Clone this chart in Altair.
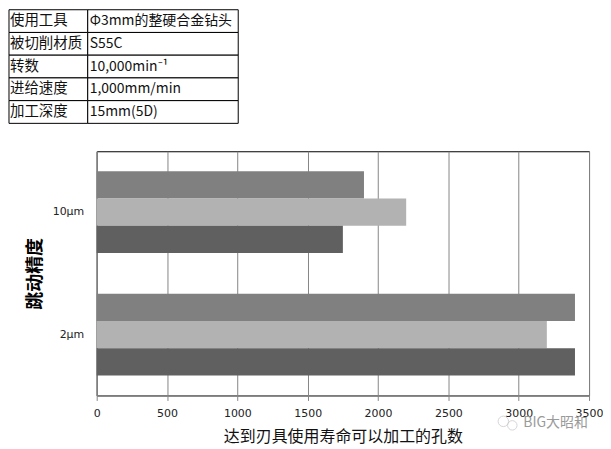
import altair as alt
import pandas as pd

accuracy = ["10μm", "2μm"]
series = ["A", "B", "C"]
values_10 = [1900, 2200, 1750]
values_2 = [3400, 3200, 3400]
colors = ["#808080", "#b2b2b2", "#606060"]
x_ticks = [0, 500, 1000, 1500, 2000, 2500, 3000, 3500]

row_labels = ["使用工具", "被切削材质", "转数", "进给速度", "加工深度"]
row_values = ["Φ3mm的整硬合金钻头", "S55C", "10,000min⁻¹", "1,000mm/min", "15mm(5D)"]

CJK = "Noto Sans CJK SC"

bars_df = pd.DataFrame(
    [{"acc": accuracy[0], "series": s, "v": v} for s, v in zip(series, values_10)]
    + [{"acc": accuracy[1], "series": s, "v": v} for s, v in zip(series, values_2)]
)
table_df = pd.DataFrame({"label": row_labels, "value": row_values})

bars = alt.Chart(bars_df).mark_bar(opacity=1).encode(
    x=alt.X(
        "v:Q",
        scale=alt.Scale(domain=[0, 3500], nice=False),
        axis=alt.Axis(
            values=x_ticks,
            format="d",
            title="达到刃具使用寿命可以加工的孔数",
            titleFont=CJK,
            titleFontSize=16,
            titleFontWeight="normal",
            titleColor="#111111",
            titlePadding=10,
            labelFont="DejaVu Sans",
            labelFontSize=11,
            labelColor="#222222",
            labelPadding=7,
            labelFlush=False,
            grid=True,
            gridColor="#868686",
            gridWidth=1,
            tickColor="#868686",
            tickSize=5,
            domainColor="#868686",
        ),
    ),
    y=alt.Y(
        "acc:N",
        sort=accuracy,
        scale=alt.Scale(paddingInner=0.333, paddingOuter=0.163),
        axis=alt.Axis(
            title="跳动精度",
            titleFont=CJK,
            titleFontSize=18,
            titleFontWeight="bold",
            titleColor="#000000",
            titlePadding=8,
            labelFont="DejaVu Sans",
            labelFontSize=11,
            labelColor="#222222",
            labelPadding=13,
            ticks=False,
            domainColor="#868686",
        ),
    ),
    yOffset=alt.YOffset("series:N", sort=series, scale=alt.Scale(paddingInner=0, paddingOuter=0)),
    color=alt.Color("series:N", scale=alt.Scale(domain=series, range=colors), legend=None),
)

row_scale = alt.Scale(domain=row_labels, range=[-142, -28], paddingInner=0, paddingOuter=0)
row_y = alt.Y("label:N", sort=row_labels, scale=row_scale, axis=None)

col1 = alt.Chart(table_df).mark_rect(fill="white", stroke="black", strokeWidth=1).encode(
    x=alt.value(-88), x2=alt.value(-9), y=row_y
)
col2 = alt.Chart(table_df).mark_rect(fill="white", stroke="black", strokeWidth=1).encode(
    x=alt.value(-9), x2=alt.value(142), y=row_y
)
text1 = alt.Chart(table_df).mark_text(
    align="left", baseline="middle", font=CJK, fontSize=14.5, color="#111111"
).encode(x=alt.value(-87), y=row_y, text="label:N")
text2 = alt.Chart(table_df).mark_text(
    align="left", baseline="middle", font=CJK, fontSize=14, color="#111111"
).encode(x=alt.value(-7), y=row_y, text="value:N")

mark_df = pd.DataFrame({"t": ["BIG大昭和"]})
watermark = alt.Chart(mark_df).mark_text(
    align="left", baseline="middle", font=CJK, fontSize=14, color="#9a9a9a"
).encode(x=alt.value(428), y=alt.value(273), text="t:N")
ring1 = alt.Chart(mark_df).mark_point(
    shape="circle", size=110, color="#c4c4c4", strokeWidth=1, filled=False
).encode(x=alt.value(408), y=alt.value(271))
ring2 = alt.Chart(mark_df).mark_point(
    shape="circle", size=90, color="#c4c4c4", strokeWidth=1, filled=False
).encode(x=alt.value(417), y=alt.value(275))

chart = (
    alt.layer(bars, col1, col2, text1, text2, watermark, ring1, ring2)
    .resolve_scale(y="independent", color="independent")
    .properties(
        width=494,
        height=245,
        padding={"left": 0, "top": 0, "right": 0, "bottom": 5},
        background="white",
    )
    .configure_view(stroke="black", strokeWidth=1)
)

chart.save("out.html", embed_options={"renderer": "svg", "actions": False})
